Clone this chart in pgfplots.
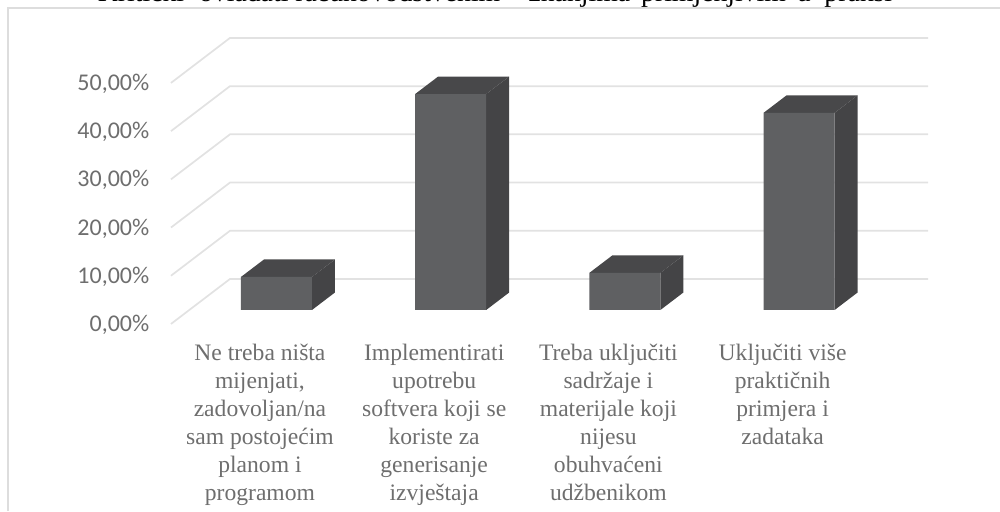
\documentclass[border=0pt]{standalone}
\usepackage{fontspec}
\setmainfont{Liberation Serif}
\newfontfamily\carlito{Carlito}
\usepackage{pgfplots}
\usepackage{pgfplotstable}
\pgfplotsset{compat=1.18}
\definecolor{front}{HTML}{5F6062}
\definecolor{topface}{HTML}{48484A}
\definecolor{sideface}{HTML}{444446}
\definecolor{gridc}{HTML}{E2E2E2}
\definecolor{borderc}{HTML}{DDDDDD}
\definecolor{labelc}{HTML}{6E6E6E}

% front faces of the bars, value in percent
\pgfplotstableread{
x y
0 6.85
1 44.8
2 7.7
3 40.9
}\bars

\pgfplotsset{
  wall/.style={gridc,line width=1.3pt},
}

\begin{document}
\begin{tikzpicture}
\path[use as bounding box,clip] (0,0) rectangle (750pt,383.25pt);
\begin{axis}[
  at={(0,0)},anchor=south west,
  scale only axis,width=750pt,height=383.25pt,
  xmin=-1.587,xmax=4.153,ymin=-41.7,ymax=64.3,
  axis line style={draw=none},
  major tick length=0pt,
  tick style={draw=none},
  xtick={0,1,2,3},
  xticklabels={
    {Ne treba ništa\\mijenjati,\\zadovoljan/na\\sam postojećim\\planom i\\programom},
    {Implementirati\\upotrebu\\softvera koji se\\koriste za\\generisanje\\izvještaja},
    {Treba uključiti\\sadržaje i\\materijale koji\\nijesu\\obuhvaćeni\\udžbenikom},
    {Uključiti više\\praktičnih\\primjera i\\zadataka}},
  xticklabel style={font=\fontsize{17.7}{20.9}\selectfont,text=labelc,align=center,anchor=north,xshift=-12.4pt,yshift=128.5pt},
  ytick={0,10,20,30,40,50},
  yticklabel={\pgfmathprintnumber{\tick}\%},
  /pgf/number format/.cd,fixed,fixed zerofill,precision=2,use comma,assume math mode=true,
  /pgfplots/.cd,
  yticklabel style={font=\carlito\fontsize{18}{20}\selectfont,text=labelc,anchor=east,xshift=115.5pt,yshift=-11.2pt},
  title={Kritički\hspace{6pt} ovladati računovodstvenim\hspace{16pt} znanjima\hspace{3pt} primjenjivim\hspace{3pt} u\hspace{5pt} praksi},
  title style={font=\fontsize{20.8}{22}\selectfont,at={(0.495,1)},anchor=base,yshift=-7.5pt,inner sep=0pt},
]
% chart border
\addplot[borderc,line width=1.2pt] coordinates {(-1.541,-41.7) (-1.541,62.66) (4.153,62.66)};
% back wall and side wall lines
\addplot[wall] coordinates {(-0.6056,-2.9) (-0.2669,6.43) (3.74,6.43)};
\addplot[wall] coordinates {(-0.6056,7.1) (-0.2669,16.43) (3.74,16.43)};
\addplot[wall] coordinates {(-0.6056,17.1) (-0.2669,26.43) (3.74,26.43)};
\addplot[wall] coordinates {(-0.6056,27.1) (-0.2669,36.43) (3.74,36.43)};
\addplot[wall] coordinates {(-0.6056,37.1) (-0.2669,46.43) (3.74,46.43)};
\addplot[wall] coordinates {(-0.6056,47.1) (-0.2669,56.43) (3.74,56.43)};
% side faces
\addplot[fill=sideface,draw=none] coordinates {(0.2038,0) (0.3358,3.63) (0.3358,10.48) (0.2038,6.85)} -- cycle;
\addplot[fill=sideface,draw=none] coordinates {(1.2038,0) (1.3358,3.63) (1.3358,48.43) (1.2038,44.8)} -- cycle;
\addplot[fill=sideface,draw=none] coordinates {(2.2038,0) (2.3358,3.63) (2.3358,11.33) (2.2038,7.7)} -- cycle;
\addplot[fill=sideface,draw=none] coordinates {(3.2038,0) (3.3358,3.63) (3.3358,44.53) (3.2038,40.9)} -- cycle;
% top faces
\addplot[fill=topface,draw=none] coordinates {(-0.2038,6.85) (-0.0718,10.48) (0.3358,10.48) (0.2038,6.85)} -- cycle;
\addplot[fill=topface,draw=none] coordinates {(0.7962,44.8) (0.9282,48.43) (1.3358,48.43) (1.2038,44.8)} -- cycle;
\addplot[fill=topface,draw=none] coordinates {(1.7962,7.7) (1.9282,11.33) (2.3358,11.33) (2.2038,7.7)} -- cycle;
\addplot[fill=topface,draw=none] coordinates {(2.7962,40.9) (2.9282,44.53) (3.3358,44.53) (3.2038,40.9)} -- cycle;
% front faces
\addplot[ybar,bar width=0.4076,fill=front,draw=none] table[x=x,y=y] {\bars};
\end{axis}
\end{tikzpicture}
\end{document}
